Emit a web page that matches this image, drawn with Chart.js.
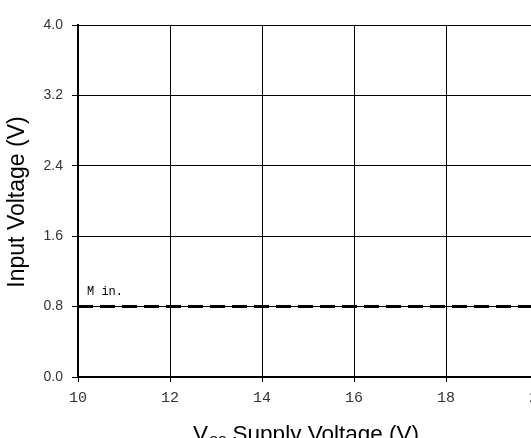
<!DOCTYPE html>
<html>
<head>
<meta charset="utf-8">
<script src="https://cdn.jsdelivr.net/npm/chart.js@4/dist/chart.umd.min.js"></script>
<style>
  html, body { margin: 0; padding: 0; overflow: hidden; background: #fff; }
  canvas { display: block; }
</style>
</head>
<body>
<canvas id="myChart" width="560" height="450"></canvas>
<script>
// supply voltage range (x) and the min input level line
const supplyVoltage = [10, 20]
const minInput = [0.8, 0.8]
const xTicks = [10, 12, 14, 16, 18, 20]
const yTicks = [0.0, 0.8, 1.6, 2.4, 3.2, 4.0]
const minLabel = 'M in.'
const yTitle = 'Input Voltage (V)'

// axis titles (x one has the CC subscript) and the "Min." note
const textPlugin = {
    id: 'textPlugin',
    afterDraw(chart) {
        const ctx = chart.ctx
        const x = chart.scales.x
        const y = chart.scales.y
        ctx.save()
        ctx.fillStyle = '#000'
        ctx.textBaseline = 'alphabetic'
        ctx.textAlign = 'left'

        ctx.font = '12px "Liberation Mono"'
        ctx.fillText(minLabel, x.getPixelForValue(10) + 9, y.getPixelForValue(0.8) - 12)

        let px = 193
        const py = 441
        ctx.font = '22.5px "Liberation Sans"'
        ctx.fillText('V', px, py)
        px += ctx.measureText('V').width + 1
        ctx.font = '12px "Liberation Sans"'
        ctx.fillText('CC', px, py + 4)
        px += ctx.measureText('CC').width
        ctx.font = '22.5px "Liberation Sans"'
        ctx.fillText(' Supply Voltage (V)', px, py)

        // y title
        ctx.translate(24, 202)
        ctx.rotate(-Math.PI / 2)
        ctx.textAlign = 'center'
        ctx.font = '23px "Liberation Sans"'
        ctx.fillText(yTitle, 0, 0)
        ctx.restore()
    }
}

const ctx = document.getElementById('myChart')

new Chart(ctx, {
    type: 'line',
    data: {
        datasets: [{
            label: 'Min.',
            data: supplyVoltage.map((v, i) => ({ x: v, y: minInput[i] })),
            borderColor: '#000',
            borderWidth: 3,
            borderDash: [15, 7],
            borderCapStyle: 'butt',
            pointRadius: 0,
            fill: false
        }]
    },
    options: {
        responsive: false,
        animation: false,
        layout: { padding: { top: 25, right: 22, left: 0, bottom: 0 } },
        plugins: {
            legend: { display: false },
            tooltip: { enabled: false }
        },
        scales: {
            x: {
                type: 'linear',
                min: 10,
                max: 20,
                afterBuildTicks: (axis) => { axis.ticks = xTicks.map(v => ({ value: v })) },
                afterFit: (axis) => { axis.height = 73 },
                ticks: {
                    padding: 7,
                    color: '#333',
                    font: { family: '"Liberation Mono"', size: 15 },
                    maxRotation: 0,
                    callback: (v) => String(v)
                },
                grid: { color: '#000', lineWidth: 1, tickLength: 5 },
                border: { color: '#000', width: 2 }
            },
            y: {
                min: 0,
                max: 4,
                afterBuildTicks: (axis) => { axis.ticks = yTicks.map(v => ({ value: v })) },
                afterFit: (axis) => { axis.width = 78 },
                ticks: {
                    padding: 9,
                    color: '#333',
                    font: { family: '"Liberation Sans"', size: 14 },
                    callback: (v) => Number(v).toFixed(1)
                },
                grid: { color: '#000', lineWidth: 1, tickLength: 6 },
                border: { color: '#000', width: 2 }
            }
        }
    },
    plugins: [textPlugin]
})
</script>
</body>
</html>
